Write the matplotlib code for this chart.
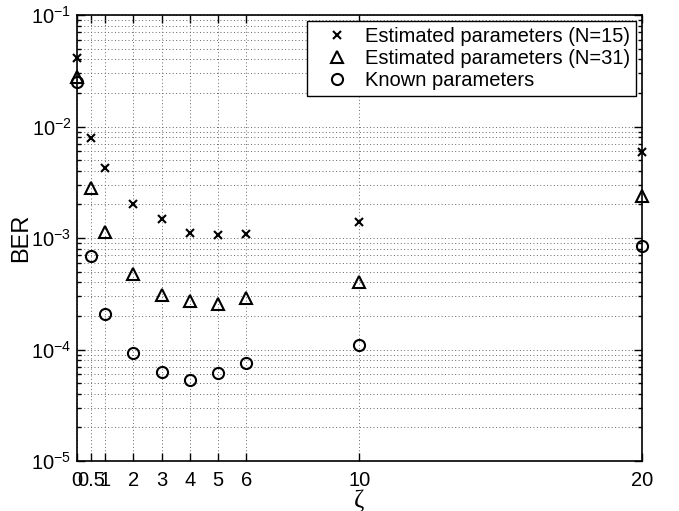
import matplotlib.pyplot as plt
from matplotlib.ticker import LogLocator, NullFormatter

plt.rcParams['font.family'] = ['Liberation Sans', 'DejaVu Sans']

# valores
zeta = [0, 0.5, 1, 2, 3, 4, 5, 6, 10, 20]
ber_n15 = [0.041, 0.0079, 0.00428, 0.0020, 0.00148, 0.00112, 0.00106, 0.00109, 0.0014, 0.0059]
ber_n31 = [0.028, 0.00279, 0.00114, 0.00048, 0.00031, 0.000275, 0.000258, 0.000288, 0.000407, 0.0024]
ber_known = [0.0249, 0.00069, 0.00021, 9.35e-05, 6.3e-05, 5.37e-05, 6.2e-05, 7.6e-05, 0.00011, 0.00085]
xtick_labels = ['0', '0.5', '1', '2', '3', '4', '5', '6', '10', '20']

fig = plt.figure(figsize=(6.79, 5.11), dpi=100)
ax = fig.add_axes([0.1134, 0.0978, 0.8321, 0.8728])

ax.semilogy(zeta, ber_n15, 'x', color='k', markersize=6, markeredgewidth=1.5,
            clip_on=False, label='Estimated parameters (N=15)')
ax.semilogy(zeta, ber_n31, '^', color='k', markersize=9, markerfacecolor='none',
            markeredgewidth=1.5, clip_on=False, label='Estimated parameters (N=31)')
ax.semilogy(zeta, ber_known, 'o', color='k', markersize=8, markerfacecolor='none',
            markeredgewidth=1.5, clip_on=False, label='Known parameters')

ax.set_xlim(0, 20)
ax.set_ylim(1e-5, 1e-1)
ax.set_xticks(zeta)
ax.set_xticklabels(xtick_labels)
ax.yaxis.set_major_locator(LogLocator(base=10, numticks=10))
ax.yaxis.set_minor_locator(LogLocator(base=10, subs=range(2, 10), numticks=20))
ax.yaxis.set_minor_formatter(NullFormatter())

ax.tick_params(which='both', direction='in', top=True, right=True, labelsize=14.5)
ax.tick_params(which='major', length=6, width=1)
ax.tick_params(which='minor', length=3, width=1)
ax.tick_params(axis='x', pad=7)
ax.tick_params(axis='y', pad=4)
for s in ax.spines.values():
    s.set_linewidth(1.2)

ax.grid(True, which='major', linestyle=(0, (1, 2.5)), color='0.4', linewidth=0.7)
ax.grid(True, which='minor', axis='y', linestyle=(0, (1, 2.5)), color='0.4', linewidth=0.7)

ax.set_xlabel('ζ', fontsize=18, family='Liberation Serif', labelpad=0)
ax.set_ylabel('BER', fontsize=17, labelpad=-1)

leg = ax.legend(loc='upper right', fontsize=14.5, fancybox=False, framealpha=1,
                edgecolor='k', borderaxespad=0.3, handletextpad=0.25,
                labelspacing=0.15, borderpad=0.3, handlelength=2.3)
leg.get_frame().set_linewidth(1.0)

plt.savefig('out.png', dpi=100)
